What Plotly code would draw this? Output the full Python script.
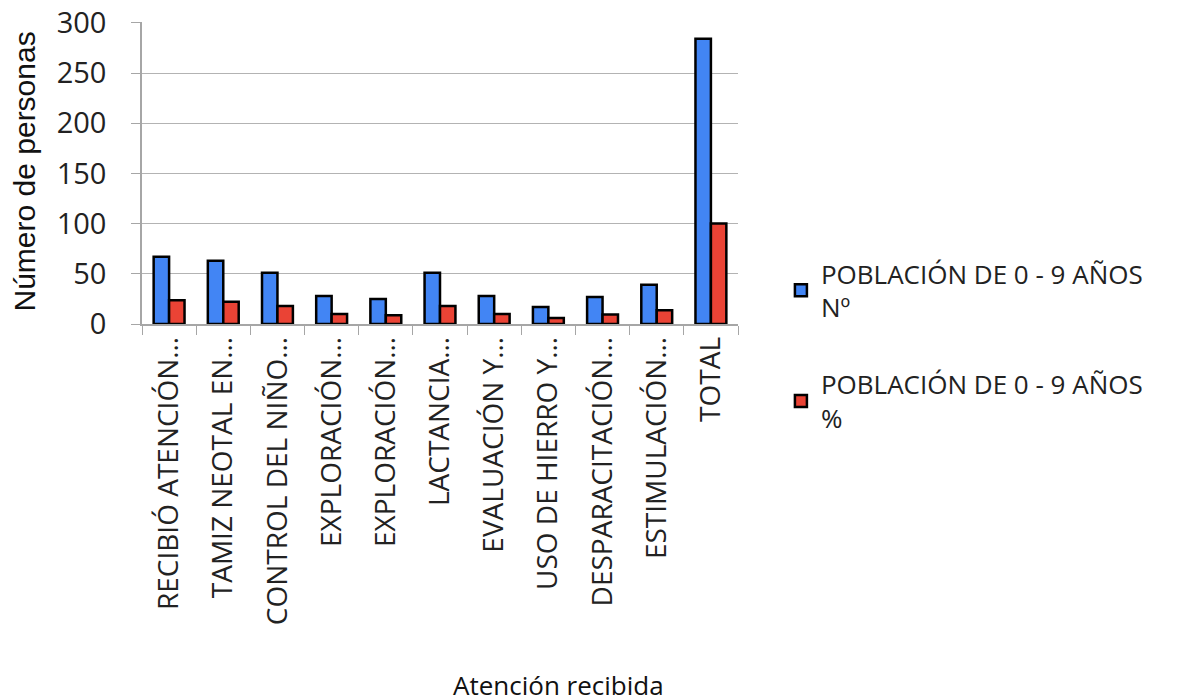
import plotly.graph_objects as go

categories = [
    "RECIBIÓ ATENCIÓN…", "TAMIZ NEOTAL EN…", "CONTROL DEL NIÑO…", "EXPLORACIÓN…",
    "EXPLORACIÓN…", "LACTANCIA…", "EVALUACIÓN Y…", "USO DE HIERRO Y…",
    "DESPARACITACIÓN…", "ESTIMULACIÓN…", "TOTAL",
]
pobl_num = [67, 63, 51, 28, 25, 51, 28, 17, 27, 39, 284]
pobl_pct = [23.6, 22.2, 18.0, 9.9, 8.8, 18.0, 9.9, 6.0, 9.5, 13.7, 100]
series_names = ["POBLACIÓN DE 0 - 9 AÑOS<br>Nº", "POBLACIÓN DE 0 - 9 AÑOS<br>%"]
y_ticks = [0, 50, 100, 150, 200, 250, 300]

xpos = list(range(len(categories)))

fig = go.Figure()
fig.add_trace(go.Bar(x=xpos, y=pobl_num, name=series_names[0], legendgroup="a",
                     marker=dict(color="#4285F4", line=dict(color="black", width=2.5))))
fig.add_trace(go.Bar(x=xpos, y=pobl_pct, name=series_names[1], legendgroup="b",
                     marker=dict(color="#EA4335", line=dict(color="black", width=2.5))))

fig.update_layout(
    width=1203, height=698,
    margin=dict(l=134, r=473, t=14, b=382),
    plot_bgcolor="white", paper_bgcolor="white",
    barmode="group", bargap=0.43, bargroupgap=0,
    showlegend=True,
    legend=dict(x=1.072, y=0.245, xanchor="left", yanchor="top",
                font=dict(family="Open Sans", size=26, color="#222222"),
                tracegroupgap=40, bgcolor="rgba(0,0,0,0)"),
    xaxis=dict(
        automargin=False,
        range=[-0.5, len(categories) - 0.5],
        tickvals=xpos, ticktext=categories, tickangle=-90,
        tickfont=dict(family="Open Sans", size=28, color="#222222"),
        ticks="", showgrid=False, zeroline=False,
        showline=True, linecolor="#a6a6a6", linewidth=1.5,
        minor=dict(ticks="outside", tick0=-0.5, dtick=1, ticklen=9,
                   tickcolor="#a6a6a6", showgrid=False),
    ),
    yaxis=dict(
        automargin=False,
        range=[0, 300.8], tickvals=y_ticks, ticklabeloverflow="allow",
        tickfont=dict(family="Open Sans", size=29, color="#222222"),
        ticks="outside", ticklen=9, tickcolor="#a6a6a6", ticklabelstandoff=19,
        showgrid=True, gridcolor="#b3b3b3", gridwidth=1.2,
        zeroline=False, showline=True, linecolor="#a6a6a6", linewidth=1.5,
    ),
    annotations=[
        dict(text="Número de personas", xref="paper", yref="paper",
             x=-0.198, y=0.505, xanchor="center", yanchor="middle", textangle=-90,
             showarrow=False, font=dict(family="Liberation Sans", size=30, color="#111111")),
        dict(text="Atención recibida", xref="paper", yref="paper",
             x=0.698, y=-1.196, xanchor="center", yanchor="middle",
             showarrow=False, font=dict(family="Open Sans", size=26, color="#111111")),
    ],
)

fig.write_html("out.html")
